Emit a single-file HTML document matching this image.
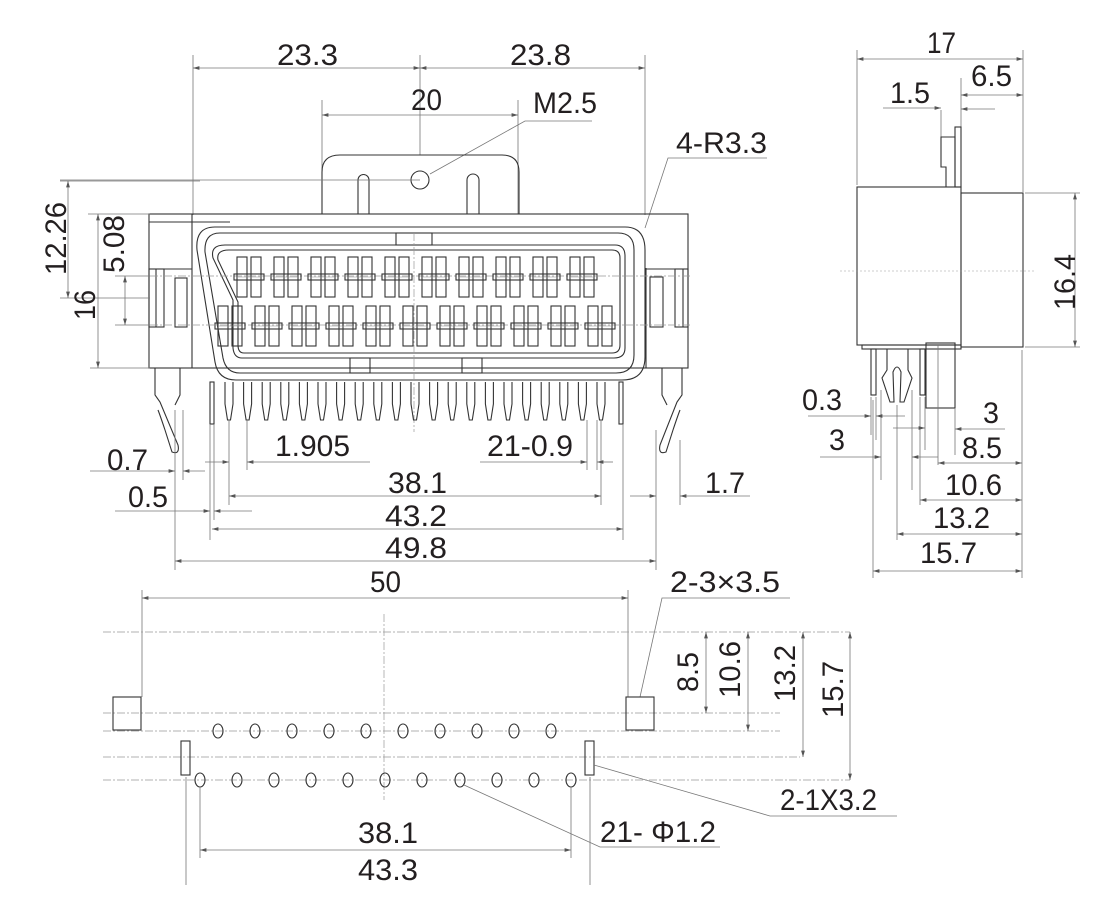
<!DOCTYPE html>
<html><head><meta charset="utf-8"><style>
html,body{margin:0;padding:0;background:#fff;}
svg{display:block}
text{font-family:"Liberation Sans",sans-serif;font-size:30px;fill:#231f20;}
.o{stroke:#333;stroke-width:1.1;fill:none}
.d{stroke:#777;stroke-width:0.8;fill:none}
.c{stroke:#999;stroke-width:0.7;fill:none;stroke-dasharray:8 2 2 2}
</style></head><body>
<svg width="1120" height="909" viewBox="0 0 1120 909" xmlns="http://www.w3.org/2000/svg">
<defs>
<marker id="a" viewBox="0 0 10 6" refX="10" refY="3" markerWidth="8" markerHeight="5" orient="auto-start-reverse"><path d="M0,0 L10,3 L0,6 z" fill="#555"/></marker>
<g id="ct">
 <rect x="-12" y="-20" width="10" height="40" class="o" stroke-width="0.9"/>
 <rect x="2" y="-20" width="10" height="40" class="o" stroke-width="0.9"/>
 <rect x="-15" y="-3" width="30" height="6" class="o" fill="#fff" stroke-width="0.9"/>
 <line x1="-12" y1="0" x2="12" y2="0" stroke="#888" stroke-width="0.6"/>
</g>
<g id="pin"><path d="M-4,0 L-4,22 L-1.5,38 L1.5,38 L4,22 L4,0" class="o" stroke-width="0.9"/></g>
</defs>

<!-- ===== FRONT VIEW ===== -->
<line x1="193" y1="55" x2="193" y2="215" class="d"/>
<line x1="645" y1="55" x2="645" y2="215" class="d"/>
<line x1="420" y1="55" x2="420" y2="155" class="d"/>
<line x1="193" y1="68" x2="420" y2="68" class="d" marker-start="url(#a)" marker-end="url(#a)"/>
<line x1="420" y1="68" x2="645" y2="68" class="d" marker-start="url(#a)" marker-end="url(#a)"/>
<text x="277" y="65" lengthAdjust="spacingAndGlyphs" textLength="61">23.3</text>
<text x="510" y="65" lengthAdjust="spacingAndGlyphs" textLength="61">23.8</text>
<line x1="322" y1="100" x2="322" y2="214" class="d"/>
<line x1="518" y1="100" x2="518" y2="214" class="d"/>
<line x1="322" y1="115" x2="518" y2="115" class="d" marker-start="url(#a)" marker-end="url(#a)"/>
<text x="411" y="110" lengthAdjust="spacingAndGlyphs" textLength="31">20</text>
<text x="533" y="113" lengthAdjust="spacingAndGlyphs" textLength="64">M2.5</text>
<polyline points="430,174 525,121 592,121" class="d"/>
<text x="676" y="153" lengthAdjust="spacingAndGlyphs" textLength="91">4-R3.3</text>
<polyline points="645,228 668,158 767,158" class="d"/>

<path d="M322,214 L322,172 Q322,155 340,155 L502,155 Q519,155 519,172 L519,214" class="o"/>
<path d="M358,214 L358,180 A5.5,5.5 0 0 1 369,180 L369,214" class="o"/>
<path d="M467,214 L467,180 A6,6 0 0 1 479,180 L479,214" class="o"/>
<circle cx="420" cy="180" r="9" class="o"/>
<line x1="60" y1="180" x2="420" y2="180" class="d"/>

<rect x="149" y="214" width="539" height="154" class="o"/>
<line x1="149" y1="222" x2="230" y2="222" class="o"/>
<line x1="192" y1="214" x2="192" y2="368" class="o"/>
<line x1="646" y1="268" x2="646" y2="368" class="o"/>
<rect x="149" y="269" width="15" height="58" class="o"/>
<line x1="156" y1="269" x2="156" y2="327" class="o"/>
<rect x="175" y="278" width="12" height="49" class="o"/>
<line x1="149" y1="269" x2="192" y2="269" class="o"/>
<rect x="675" y="269" width="13" height="58" class="o"/>
<line x1="683" y1="269" x2="683" y2="327" class="o"/>
<rect x="650" y="277" width="13" height="50" class="o"/>
<line x1="646" y1="269" x2="688" y2="269" class="o"/>
<path d="M155,368 L155,395 L160,402 L178,445 Q180,455 172,452 L165,430 Q160,415 158,410" class="o"/>
<path d="M180,368 L180,395 L175,405" class="o"/>
<path d="M682,368 L682,395 L677,402 L660,445 Q658,455 666,452 L673,430 Q678,415 680,410" class="o"/>
<path d="M662,368 L662,395 L667,405" class="o"/>

<path d="M215,227 L625,227 Q645,227 645,250 L645,357 Q645,380 622,380 L236,380 Q218,380 215,362 L197,250 Q195,227 215,227 Z" class="o" fill="#fff"/>
<path d="M220,233 L618,233 Q634,233 634,250 L634,355 Q634,373 616,373 L240,373 Q226,373 223,358 L205,252 Q204,233 220,233 Z" class="o"/>
<path d="M225,245 L615,245 Q625,245 625,256 L625,348 Q625,358 614,358 L242,358 Q234,358 233,348 L233,300 L213,258 Q210,245 225,245 Z" class="o"/>
<path d="M229,250 L612,250 Q620,250 620,258 L620,345 Q620,353 612,353 L244,353 Q238,353 238,345 L238,302 L218,260 Q216,250 229,250 Z" class="o" stroke-width="0.7"/>
<rect x="396" y="233" width="36" height="12" class="o" stroke-width="0.8"/>
<rect x="350" y="358" width="20" height="15" class="o" stroke-width="0.8"/>
<rect x="462" y="358" width="20" height="15" class="o" stroke-width="0.8"/>

<line x1="150" y1="276" x2="690" y2="276" class="c"/>
<line x1="150" y1="325" x2="690" y2="325" class="c"/>
<g>
<use href="#ct" x="249" y="277"/><use href="#ct" x="286" y="277"/><use href="#ct" x="323" y="277"/><use href="#ct" x="360" y="277"/><use href="#ct" x="397" y="277"/><use href="#ct" x="434" y="277"/><use href="#ct" x="471" y="277"/><use href="#ct" x="508" y="277"/><use href="#ct" x="545" y="277"/><use href="#ct" x="582" y="277"/>
<use href="#ct" x="230" y="326"/><use href="#ct" x="267" y="326"/><use href="#ct" x="304" y="326"/><use href="#ct" x="341" y="326"/><use href="#ct" x="378" y="326"/><use href="#ct" x="415" y="326"/><use href="#ct" x="452" y="326"/><use href="#ct" x="489" y="326"/><use href="#ct" x="526" y="326"/><use href="#ct" x="563" y="326"/><use href="#ct" x="600" y="326"/>
</g>
<line x1="414" y1="233" x2="414" y2="432" class="c"/>

<g>
<use href="#pin" x="229" y="382"/><use href="#pin" x="247.6" y="382"/><use href="#pin" x="266.2" y="382"/><use href="#pin" x="284.8" y="382"/><use href="#pin" x="303.4" y="382"/><use href="#pin" x="322" y="382"/><use href="#pin" x="340.6" y="382"/><use href="#pin" x="359.2" y="382"/><use href="#pin" x="377.8" y="382"/><use href="#pin" x="396.4" y="382"/><use href="#pin" x="415" y="382"/><use href="#pin" x="433.6" y="382"/><use href="#pin" x="452.2" y="382"/><use href="#pin" x="470.8" y="382"/><use href="#pin" x="489.4" y="382"/><use href="#pin" x="508" y="382"/><use href="#pin" x="526.6" y="382"/><use href="#pin" x="545.2" y="382"/><use href="#pin" x="563.8" y="382"/><use href="#pin" x="582.4" y="382"/><use href="#pin" x="601" y="382"/>
</g>
<rect x="210" y="382" width="4" height="42" class="o" stroke-width="0.9"/>
<rect x="619" y="382" width="4" height="42" class="o" stroke-width="0.9"/>

<line x1="60" y1="181" x2="200" y2="181" class="d"/>
<line x1="88" y1="214" x2="150" y2="214" class="d"/>
<line x1="115" y1="276" x2="150" y2="276" class="d"/>
<line x1="115" y1="325" x2="150" y2="325" class="d"/>
<line x1="90" y1="368" x2="150" y2="368" class="d"/>
<line x1="60" y1="298" x2="150" y2="298" class="d"/>
<line x1="68" y1="181" x2="68" y2="298" class="d" marker-start="url(#a)" marker-end="url(#a)"/>
<line x1="125" y1="276" x2="125" y2="325" class="d" marker-start="url(#a)" marker-end="url(#a)"/>
<line x1="98" y1="214" x2="98" y2="368" class="d" marker-start="url(#a)" marker-end="url(#a)"/>
<text transform="translate(66,275) rotate(-90)" lengthAdjust="spacingAndGlyphs" textLength="73">12.26</text>
<text transform="translate(124,273) rotate(-90)" lengthAdjust="spacingAndGlyphs" textLength="58">5.08</text>
<text transform="translate(95,320) rotate(-90)" lengthAdjust="spacingAndGlyphs" textLength="30">16</text>

<line x1="175" y1="410" x2="175" y2="570" class="d"/>
<line x1="183" y1="410" x2="183" y2="480" class="d"/>
<line x1="210" y1="424" x2="210" y2="540" class="d"/>
<line x1="214" y1="424" x2="214" y2="520" class="d"/>
<line x1="229" y1="420" x2="229" y2="505" class="d"/>
<line x1="247" y1="420" x2="247" y2="470" class="d"/>
<line x1="601" y1="420" x2="601" y2="505" class="d"/>
<line x1="587" y1="420" x2="587" y2="470" class="d"/>
<line x1="597" y1="420" x2="597" y2="470" class="d"/>
<line x1="623" y1="424" x2="623" y2="540" class="d"/>
<line x1="656" y1="430" x2="656" y2="570" class="d"/>
<line x1="680" y1="440" x2="680" y2="505" class="d"/>
<text x="107" y="470" lengthAdjust="spacingAndGlyphs" textLength="41">0.7</text>
<line x1="90" y1="471" x2="175" y2="471" class="d" marker-end="url(#a)"/>
<line x1="183" y1="471" x2="205" y2="471" class="d" marker-start="url(#a)"/>
<text x="275" y="456" lengthAdjust="spacingAndGlyphs" textLength="75">1.905</text>
<line x1="205" y1="462" x2="229" y2="462" class="d" marker-end="url(#a)"/>
<line x1="247" y1="462" x2="370" y2="462" class="d" marker-start="url(#a)"/>
<text x="487" y="456" lengthAdjust="spacingAndGlyphs" textLength="86">21-0.9</text>
<line x1="480" y1="462" x2="587" y2="462" class="d" marker-end="url(#a)"/>
<line x1="597" y1="462" x2="613" y2="462" class="d" marker-start="url(#a)"/>
<text x="388" y="493" lengthAdjust="spacingAndGlyphs" textLength="59">38.1</text>
<line x1="229" y1="496" x2="601" y2="496" class="d" marker-start="url(#a)" marker-end="url(#a)"/>
<text x="705" y="493" lengthAdjust="spacingAndGlyphs" textLength="40">1.7</text>
<line x1="630" y1="496" x2="656" y2="496" class="d" marker-end="url(#a)"/>
<line x1="680" y1="496" x2="750" y2="496" class="d" marker-start="url(#a)"/>
<text x="128" y="507" lengthAdjust="spacingAndGlyphs" textLength="40">0.5</text>
<line x1="115" y1="511" x2="210" y2="511" class="d" marker-end="url(#a)"/>
<line x1="214" y1="511" x2="252" y2="511" class="d" marker-start="url(#a)"/>
<text x="385" y="526" lengthAdjust="spacingAndGlyphs" textLength="62">43.2</text>
<line x1="212" y1="529" x2="623" y2="529" class="d" marker-start="url(#a)" marker-end="url(#a)"/>
<text x="385" y="558" lengthAdjust="spacingAndGlyphs" textLength="62">49.8</text>
<line x1="175" y1="561" x2="656" y2="561" class="d" marker-start="url(#a)" marker-end="url(#a)"/>

<!-- ===== SIDE VIEW ===== -->
<line x1="857" y1="50" x2="857" y2="185" class="d"/>
<line x1="1023" y1="50" x2="1023" y2="192" class="d"/>
<line x1="857" y1="59" x2="1023" y2="59" class="d" marker-start="url(#a)" marker-end="url(#a)"/>
<text x="927" y="53" lengthAdjust="spacingAndGlyphs" textLength="29">17</text>
<line x1="941" y1="110" x2="941" y2="137" class="d"/>
<line x1="961" y1="78" x2="961" y2="127" class="d"/>
<text x="890" y="103" lengthAdjust="spacingAndGlyphs" textLength="40">1.5</text>
<line x1="883" y1="108" x2="941" y2="108" class="d" marker-end="url(#a)"/>
<line x1="961" y1="109" x2="995" y2="109" class="d" marker-start="url(#a)"/>
<text x="971" y="86" lengthAdjust="spacingAndGlyphs" textLength="41">6.5</text>
<line x1="961" y1="95" x2="1023" y2="95" class="d" marker-start="url(#a)" marker-end="url(#a)"/>
<path d="M946,187 L946,167 L941,167 L941,137 L955,137 L955,187" class="o"/>
<rect x="955" y="127" width="6" height="60" class="o"/>
<rect x="857" y="187" width="104" height="158" class="o"/>
<rect x="961" y="193" width="62" height="154" class="o"/>
<line x1="840" y1="271" x2="1035" y2="271" stroke="#999" stroke-width="0.6" stroke-dasharray="2 2"/>
<line x1="1025" y1="193" x2="1080" y2="193" class="d"/>
<line x1="1025" y1="347" x2="1080" y2="347" class="d"/>
<line x1="1075" y1="193" x2="1075" y2="347" class="d" marker-start="url(#a)" marker-end="url(#a)"/>
<text transform="translate(1075,310) rotate(-90)" lengthAdjust="spacingAndGlyphs" textLength="56">16.4</text>
<rect x="862" y="345" width="99" height="4" class="o"/>
<rect x="871" y="349" width="5" height="46" class="o"/>
<path d="M887,349 L887,370 L882,378 L890,402 L894,402 L893,372 Q897,362 901,372 L900,402 L904,402 L912,378 L908,370 L908,349" class="o"/>
<rect x="920" y="349" width="5" height="46" class="o"/>
<rect x="926" y="343" width="29" height="65" class="o"/>
<line x1="938" y1="345" x2="938" y2="465" class="d"/>
<line x1="871" y1="397" x2="871" y2="435" class="d"/>
<line x1="876" y1="397" x2="876" y2="440" class="d"/>
<line x1="881" y1="390" x2="881" y2="480" class="d"/>
<line x1="873" y1="400" x2="873" y2="578" class="d"/>
<line x1="897" y1="405" x2="897" y2="540" class="d"/>
<line x1="912" y1="390" x2="912" y2="490" class="d"/>
<line x1="920" y1="397" x2="920" y2="505" class="d"/>
<line x1="925" y1="397" x2="925" y2="450" class="d"/>
<line x1="955" y1="408" x2="955" y2="455" class="d"/>
<line x1="1022" y1="350" x2="1022" y2="578" class="d"/>
<text x="802" y="410" lengthAdjust="spacingAndGlyphs" textLength="40">0.3</text>
<line x1="808" y1="416" x2="871" y2="416" class="d" marker-end="url(#a)"/>
<line x1="876" y1="416" x2="905" y2="416" class="d" marker-start="url(#a)"/>
<line x1="893" y1="428" x2="925" y2="428" class="d" marker-end="url(#a)"/>
<text x="829" y="450" lengthAdjust="spacingAndGlyphs" textLength="16">3</text>
<line x1="820" y1="457" x2="881" y2="457" class="d" marker-end="url(#a)"/>
<line x1="912" y1="457" x2="938" y2="457" class="d" marker-start="url(#a)"/>
<text x="983" y="423" lengthAdjust="spacingAndGlyphs" textLength="16">3</text>
<line x1="955" y1="429" x2="1005" y2="429" class="d" marker-start="url(#a)"/>
<text x="962" y="458" lengthAdjust="spacingAndGlyphs" textLength="40">8.5</text>
<line x1="938" y1="463" x2="1022" y2="463" class="d" marker-start="url(#a)" marker-end="url(#a)"/>
<text x="945" y="495" lengthAdjust="spacingAndGlyphs" textLength="57">10.6</text>
<line x1="920" y1="500" x2="1022" y2="500" class="d" marker-start="url(#a)" marker-end="url(#a)"/>
<text x="933" y="528" lengthAdjust="spacingAndGlyphs" textLength="57">13.2</text>
<line x1="897" y1="534" x2="1022" y2="534" class="d" marker-start="url(#a)" marker-end="url(#a)"/>
<text x="920" y="563" lengthAdjust="spacingAndGlyphs" textLength="57">15.7</text>
<line x1="873" y1="571" x2="1022" y2="571" class="d" marker-start="url(#a)" marker-end="url(#a)"/>

<!-- ===== BOTTOM VIEW ===== -->
<line x1="142" y1="590" x2="142" y2="697" class="d"/>
<line x1="628" y1="590" x2="628" y2="697" class="d"/>
<line x1="142" y1="598" x2="628" y2="598" class="d" marker-start="url(#a)" marker-end="url(#a)"/>
<text x="370" y="592" lengthAdjust="spacingAndGlyphs" textLength="31">50</text>
<text x="670" y="592" lengthAdjust="spacingAndGlyphs" textLength="110">2-3×3.5</text>
<polyline points="640,697 662,598 790,598" class="d"/>
<line x1="103" y1="632" x2="850" y2="632" class="c"/>
<line x1="103" y1="713" x2="780" y2="713" class="c"/>
<line x1="103" y1="731" x2="780" y2="731" class="c"/>
<line x1="103" y1="757" x2="800" y2="757" class="c"/>
<line x1="103" y1="780" x2="850" y2="780" class="c"/>
<line x1="384" y1="614" x2="384" y2="800" class="c"/>
<rect x="113" y="697" width="28" height="33" class="o"/>
<rect x="626" y="697" width="28" height="33" class="o"/>
<rect x="181" y="741" width="9" height="34" class="o"/>
<rect x="585" y="741" width="9" height="34" class="o"/>
<g class="o" stroke-width="0.9">
<ellipse cx="218" cy="731" rx="5" ry="7"/><ellipse cx="255" cy="731" rx="5" ry="7"/><ellipse cx="292" cy="731" rx="5" ry="7"/><ellipse cx="329" cy="731" rx="5" ry="7"/><ellipse cx="366" cy="731" rx="5" ry="7"/><ellipse cx="403" cy="731" rx="5" ry="7"/><ellipse cx="440" cy="731" rx="5" ry="7"/><ellipse cx="477" cy="731" rx="5" ry="7"/><ellipse cx="514" cy="731" rx="5" ry="7"/><ellipse cx="551" cy="731" rx="5" ry="7"/>
<ellipse cx="200" cy="780" rx="5" ry="7"/><ellipse cx="237" cy="780" rx="5" ry="7"/><ellipse cx="274" cy="780" rx="5" ry="7"/><ellipse cx="311" cy="780" rx="5" ry="7"/><ellipse cx="348" cy="780" rx="5" ry="7"/><ellipse cx="385" cy="780" rx="5" ry="7"/><ellipse cx="422" cy="780" rx="5" ry="7"/><ellipse cx="460" cy="780" rx="5" ry="7"/><ellipse cx="497" cy="780" rx="5" ry="7"/><ellipse cx="534" cy="780" rx="5" ry="7"/><ellipse cx="571" cy="780" rx="5" ry="7"/>
</g>
<line x1="706" y1="632" x2="706" y2="713" class="d" marker-start="url(#a)" marker-end="url(#a)"/>
<line x1="748" y1="632" x2="748" y2="731" class="d" marker-start="url(#a)" marker-end="url(#a)"/>
<line x1="803" y1="632" x2="803" y2="757" class="d" marker-start="url(#a)" marker-end="url(#a)"/>
<line x1="850" y1="632" x2="850" y2="780" class="d" marker-start="url(#a)" marker-end="url(#a)"/>
<text transform="translate(698,692) rotate(-90)" lengthAdjust="spacingAndGlyphs" textLength="40">8.5</text>
<text transform="translate(740,698) rotate(-90)" lengthAdjust="spacingAndGlyphs" textLength="57">10.6</text>
<text transform="translate(795,702) rotate(-90)" lengthAdjust="spacingAndGlyphs" textLength="57">13.2</text>
<text transform="translate(843,718) rotate(-90)" lengthAdjust="spacingAndGlyphs" textLength="57">15.7</text>
<text x="780" y="810" lengthAdjust="spacingAndGlyphs" textLength="97">2-1X3.2</text>
<polyline points="594,765 770,816 897,816" class="d"/>
<text x="600" y="842" lengthAdjust="spacingAndGlyphs" textLength="116">21- Φ1.2</text>
<polyline points="464,785 600,847 720,847" class="d"/>
<line x1="200" y1="787" x2="200" y2="858" class="d"/>
<line x1="571" y1="787" x2="571" y2="858" class="d"/>
<line x1="186" y1="777" x2="186" y2="885" class="d"/>
<line x1="590" y1="777" x2="590" y2="885" class="d"/>
<text x="358" y="843" lengthAdjust="spacingAndGlyphs" textLength="60">38.1</text>
<line x1="200" y1="850" x2="571" y2="850" class="d" marker-start="url(#a)" marker-end="url(#a)"/>
<text x="358" y="880" lengthAdjust="spacingAndGlyphs" textLength="60">43.3</text>
</svg>
</body></html>
